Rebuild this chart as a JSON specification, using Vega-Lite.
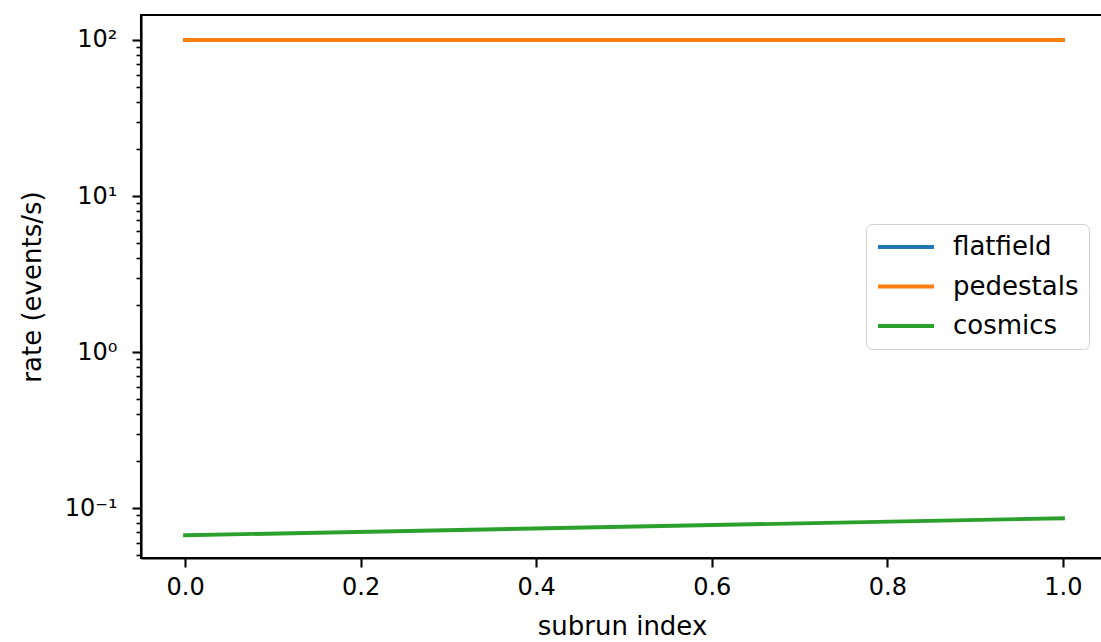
{
  "$schema": "https://vega.github.io/schema/vega-lite/v6.json",
  "autosize": {"type": "none"},
  "padding": {"left": 141, "top": 15, "right": 0, "bottom": 84},
  "width": 962,
  "height": 543,
  "background": "white",
  "config": {
    "font": "DejaVu Sans",
    "view": {"stroke": "black", "strokeWidth": 2.1},
    "axis": {
      "labelFont": "DejaVu Sans",
      "titleFont": "DejaVu Sans",
      "labelFontSize": 24,
      "titleFontSize": 26,
      "titleFontWeight": "normal",
      "labelColor": "black",
      "titleColor": "black",
      "domainColor": "black",
      "domainWidth": 2.1,
      "tickColor": "black",
      "grid": false
    }
  },
  "data": {
    "values": [
      {"subrun": 0, "rate": 100, "series": "flatfield"},
      {"subrun": 1, "rate": 100, "series": "flatfield"},
      {"subrun": 0, "rate": 100, "series": "pedestals"},
      {"subrun": 1, "rate": 100, "series": "pedestals"},
      {"subrun": 0, "rate": 0.0671, "series": "cosmics"},
      {"subrun": 1, "rate": 0.0863, "series": "cosmics"}
    ]
  },
  "mark": {"type": "line", "strokeWidth": 3.9, "strokeCap": "square", "clip": true},
  "encoding": {
    "x": {
      "field": "subrun",
      "type": "quantitative",
      "scale": {"domain": [-0.0502, 1.0457], "nice": false, "zero": false},
      "axis": {
        "title": "subrun index",
        "values": [0, 0.2, 0.4, 0.6, 0.8, 1.0],
        "format": ".1f",
        "tickSize": 9,
        "tickWidth": 2.1,
        "labelPadding": 8,
        "titlePadding": 14
      }
    },
    "y": {
      "field": "rate",
      "type": "quantitative",
      "scale": {"type": "log", "domain": [0.048, 144.5], "nice": false},
      "axis": {
        "title": "rate (events/s)",
        "values": [0.05, 0.06, 0.07, 0.08, 0.09, 0.1, 0.2, 0.3, 0.4, 0.5, 0.6, 0.7, 0.8, 0.9, 1, 2, 3, 4, 5, 6, 7, 8, 9, 10, 20, 30, 40, 50, 60, 70, 80, 90, 100],
        "labelExpr": "datum.value == 100 ? '10²' : datum.value == 10 ? '10¹' : datum.value == 1 ? '10⁰' : datum.value == 0.1 ? '10⁻¹' : ''",
        "tickSize": {"condition": {"test": "datum.value == 100 || datum.value == 10 || datum.value == 1 || datum.value == 0.1", "value": 9}, "value": 5},
        "tickWidth": {"condition": {"test": "datum.value == 100 || datum.value == 10 || datum.value == 1 || datum.value == 0.1", "value": 2.1}, "value": 1.6},
        "labelPadding": 15,
        "titlePadding": 19
      }
    },
    "color": {
      "field": "series",
      "type": "nominal",
      "sort": ["flatfield", "pedestals", "cosmics"],
      "scale": {"domain": ["flatfield", "pedestals", "cosmics"], "range": ["#1f77b4", "#ff7f0e", "#2ca02c"]},
      "legend": {
        "title": null,
        "orient": "none",
        "legendX": 725,
        "legendY": 209,
        "symbolType": "stroke",
        "symbolSize": 3136,
        "symbolStrokeWidth": 3.9,
        "labelFont": "DejaVu Sans",
        "labelFontSize": 26,
        "labelColor": "black",
        "labelOffset": 17,
        "clipHeight": 26,
        "rowPadding": 13.5,
        "padding": 10,
        "strokeColor": "#d0d0d0",
        "fillColor": "white",
        "cornerRadius": 6
      }
    }
  }
}
